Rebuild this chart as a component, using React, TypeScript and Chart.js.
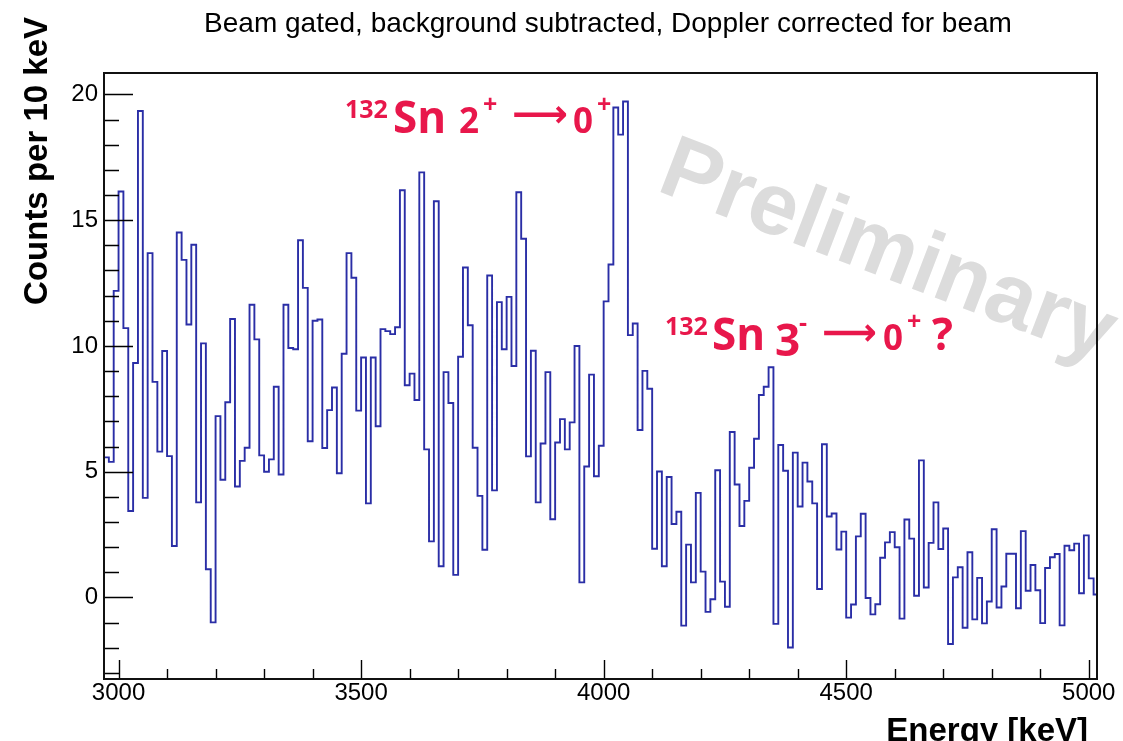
import React, { useEffect, useRef } from 'react';
import { Chart, registerables } from 'chart.js';

Chart.register(...registerables);

// ---- data ----
const binStart = 2970; // keV, low edge of first bin
const binWidth = 10; // keV
const counts: number[] = [
  5.57, 5.39, 12.19, 16.14, 10.71, 3.44, 9.32, 19.34, 3.96, 13.69,
  8.57, 5.8, 9.8, 5.62, 2.05, 14.51, 13.42, 10.85, 14.02, 3.78,
  10.1, 1.12, -0.99, 7.21, 4.68, 7.76, 11.07, 4.41, 5.43, 5.95,
  11.64, 10.26, 5.65, 5.0, 5.49, 8.38, 4.89, 11.64, 9.92, 9.87,
  14.2, 12.31, 6.21, 11.0, 11.05, 5.94, 7.45, 8.35, 4.94, 9.69,
  13.69, 12.71, 7.43, 9.54, 3.74, 9.54, 6.81, 10.67, 10.59, 10.47,
  10.74, 16.19, 8.44, 8.9, 7.85, 16.9, 5.89, 2.23, 15.75, 1.24,
  8.96, 7.73, 0.9, 9.57, 13.12, 10.82, 5.95, 4.04, 1.9, 12.8,
  4.26, 11.74, 9.87, 11.95, 9.2, 16.11, 14.26, 5.61, 9.81, 3.78,
  6.12, 8.96, 3.11, 6.16, 7.09, 5.89, 6.96, 10.0, 0.6, 5.21,
  8.86, 4.82, 6.03, 11.77, 13.24, 19.48, 18.4, 19.72, 10.43, 10.89,
  6.66, 9.01, 8.3, 1.94, 5.01, 1.24, 4.79, 2.92, 3.41, -1.12,
  2.1, 0.6, 4.16, 1.03, -0.57, -0.07, 5.06, 0.63, -0.37, 6.58,
  4.49, 2.84, 3.84, 5.16, 6.31, 8.05, 8.38, 9.15, -1.05, 6.06,
  5.04, -1.99, 5.76, 3.62, 5.36, 4.61, 3.74, 0.34, 6.09, 3.22,
  3.34, 1.91, 2.62, -0.8, -0.28, 2.43, 3.33, -0.02, -0.67, -0.27,
  1.58, 2.19, 2.6, 2.0, -0.84, 3.1, 2.34, 0.07, 5.45, 0.4,
  2.17, 3.78, 1.93, 2.74, -1.85, 0.8, 1.2, -1.2, 1.8, -0.87,
  0.78, -1.03, -0.16, 2.71, -0.4, 0.44, 1.74, 1.74, -0.43, 2.64,
  0.27, 1.29, 0.29, -1.02, 1.17, 1.6, 1.73, -1.11, 2.06, 1.88,
  2.14, 0.17, 2.47, 0.76, 0.12,
];
const xTicks = [3000, 3500, 4000, 4500, 5000];
const yTicks = [0, 5, 10, 15, 20];
const xMinorStep = 100;
const yMinorStep = 1;
const xRange = [2970, 5017];
const yRange = [-3.24, 20.85];

const titleText = 'Beam gated, background subtracted, Doppler corrected for beam';
const xTitle = 'Energy [keV]';
const yTitle = 'Counts per 10 keV';
const watermark = 'Preliminary';

const RED = '#e8174b';
const LINE = '#2a2ea6';
const SANS = '"Liberation Sans", Arial, Helvetica, sans-serif';
const OPEN = '"Open Sans", "DejaVu Sans", sans-serif';

type Seg = { t: string; x: number; y: number; font: string };

const sup = `bold 25px ${OPEN}`;
const big = `bold 44px ${OPEN}`;
const small = `bold 35px ${OPEN}`;

const ann1: Seg[] = [
  { t: '132', x: 345, y: 118, font: sup },
  { t: 'Sn', x: 393, y: 133, font: big },
  { t: '2', x: 459, y: 133, font: small },
  { t: '+', x: 483, y: 113, font: sup },
  { t: '0', x: 573, y: 133, font: small },
  { t: '+', x: 597, y: 113, font: sup },
];
const ann2: Seg[] = [
  { t: '132', x: 665, y: 335, font: sup },
  { t: 'Sn', x: 712, y: 350, font: big },
  { t: '3', x: 775, y: 356, font: big },
  { t: '-', x: 799, y: 331, font: sup },
  { t: '0', x: 883, y: 350, font: small },
  { t: '+', x: 907, y: 330, font: sup },
  { t: '?', x: 932, y: 350, font: big },
];
const arrows = [
  { x1: 512, x2: 568, cy: 114 },
  { x1: 822, x2: 877, cy: 333 },
];

function drawArrow(ctx: CanvasRenderingContext2D, x1: number, x2: number, cy: number) {
  const glyph = '\u27F6';
  ctx.font = `bold 40px "DejaVu Sans"`;
  const w = ctx.measureText(glyph).width || 40;
  const size = (40 * (x2 - x1)) / w;
  ctx.font = `bold ${size}px "DejaVu Sans"`;
  const m = ctx.measureText(glyph);
  const asc = m.actualBoundingBoxAscent || size * 0.5;
  const desc = m.actualBoundingBoxDescent || 0;
  ctx.textAlign = 'left';
  ctx.textBaseline = 'alphabetic';
  ctx.fillText(glyph, x1, cy + (asc - desc) / 2);
}

const decorPlugin = {
  id: 'decor',
  beforeDatasetsDraw(chart: any) {
    const ctx: CanvasRenderingContext2D = chart.ctx;
    ctx.save();
    ctx.translate(655, 190);
    ctx.rotate((21 * Math.PI) / 180);
    ctx.font = `bold 88px ${SANS}`;
    ctx.fillStyle = '#dcdcdc';
    ctx.textAlign = 'left';
    ctx.textBaseline = 'alphabetic';
    ctx.fillText(watermark, 0, 0);
    ctx.restore();
  },
  afterDraw(chart: any) {
    const ctx: CanvasRenderingContext2D = chart.ctx;
    const a = chart.chartArea;
    const xs = chart.scales.x;
    const ys = chart.scales.y;
    ctx.save();
    // inner ticks
    ctx.strokeStyle = '#000';
    ctx.lineWidth = 1.4;
    ctx.beginPath();
    for (let v = Math.ceil(yRange[0]); v <= yRange[1]; v += yMinorStep) {
      const py = Math.round(ys.getPixelForValue(v)) + 0.5;
      const len = yTicks.includes(v) ? 29 : 15;
      ctx.moveTo(a.left, py);
      ctx.lineTo(a.left + len, py);
    }
    for (let v = xTicks[0]; v <= xTicks[xTicks.length - 1]; v += xMinorStep) {
      const px = Math.round(xs.getPixelForValue(v)) + 0.5;
      const len = xTicks.includes(v) ? 19 : 10;
      ctx.moveTo(px, a.bottom);
      ctx.lineTo(px, a.bottom - len);
    }
    ctx.stroke();
    // frame
    ctx.lineWidth = 2;
    ctx.strokeStyle = '#111';
    ctx.strokeRect(a.left, a.top, a.right - a.left, a.bottom - a.top);

    // title
    ctx.fillStyle = '#000';
    ctx.font = `28px ${SANS}`;
    ctx.textAlign = 'center';
    ctx.textBaseline = 'alphabetic';
    ctx.fillText(titleText, 608, 32);

    // x title
    ctx.font = `bold 33px ${SANS}`;
    ctx.textAlign = 'right';
    ctx.fillText(xTitle, 1088, 741);

    // y title
    ctx.save();
    ctx.translate(47, 17);
    ctx.rotate(-Math.PI / 2);
    ctx.textAlign = 'right';
    ctx.font = `bold 33px ${SANS}`;
    ctx.fillText(yTitle, 0, 0);
    ctx.restore();

    // annotations
    ctx.fillStyle = RED;
    ctx.textAlign = 'left';
    ctx.textBaseline = 'alphabetic';
    for (const s of [...ann1, ...ann2]) {
      ctx.font = s.font;
      ctx.fillText(s.t, s.x, s.y);
    }
    for (const ar of arrows) drawArrow(ctx, ar.x1, ar.x2, ar.cy);
    ctx.restore();
  },
};

export default function App() {
  const ref = useRef<HTMLCanvasElement>(null);
  useEffect(() => {
    const points = counts.map((c, i) => ({ x: binStart + i * binWidth, y: c }));
    points.push({ x: binStart + counts.length * binWidth, y: counts[counts.length - 1] });
    const tickFont = { family: SANS, size: 24 };
    const chart = new Chart(ref.current as HTMLCanvasElement, {
      type: 'line',
      data: {
        datasets: [
          {
            data: points,
            stepped: 'before',
            borderColor: LINE,
            borderWidth: 1.9,
            pointRadius: 0,
            fill: false,
            tension: 0,
          },
        ],
      },
      options: {
        animation: false,
        responsive: false,
        devicePixelRatio: 1,
        layout: { padding: { left: 0, right: 26, top: 73, bottom: 0 } },
        plugins: {
          legend: { display: false },
          tooltip: { enabled: false },
          title: { display: false },
        },
        scales: {
          x: {
            type: 'linear',
            min: xRange[0],
            max: xRange[1],
            grid: { display: false, drawTicks: false },
            border: { display: false },
            afterBuildTicks: (s: any) => {
              s.ticks = xTicks.map((v) => ({ value: v }));
            },
            afterFit: (s: any) => {
              s.height = 62;
            },
            ticks: {
              callback: (v: any) => String(v),
              font: tickFont,
              color: '#000',
              padding: 0,
              maxRotation: 0,
              autoSkip: false,
            },
          },
          y: {
            type: 'linear',
            min: yRange[0],
            max: yRange[1],
            grid: { display: false, drawTicks: false },
            border: { display: false },
            afterBuildTicks: (s: any) => {
              s.ticks = yTicks.map((v) => ({ value: v }));
            },
            afterFit: (s: any) => {
              s.width = 104;
            },
            ticks: {
              callback: (v: any) => String(v),
              font: tickFont,
              color: '#000',
              padding: 6,
              autoSkip: false,
            },
          },
        },
      },
      plugins: [decorPlugin],
    } as any);
    return () => chart.destroy();
  }, []);
  return (
    <div style={{ position: 'fixed', left: 0, top: 0, width: 1123, height: 741, background: '#fff' }}>
      <canvas ref={ref} width={1123} height={741} style={{ display: 'block', width: 1123, height: 741 }} />
    </div>
  );
}
